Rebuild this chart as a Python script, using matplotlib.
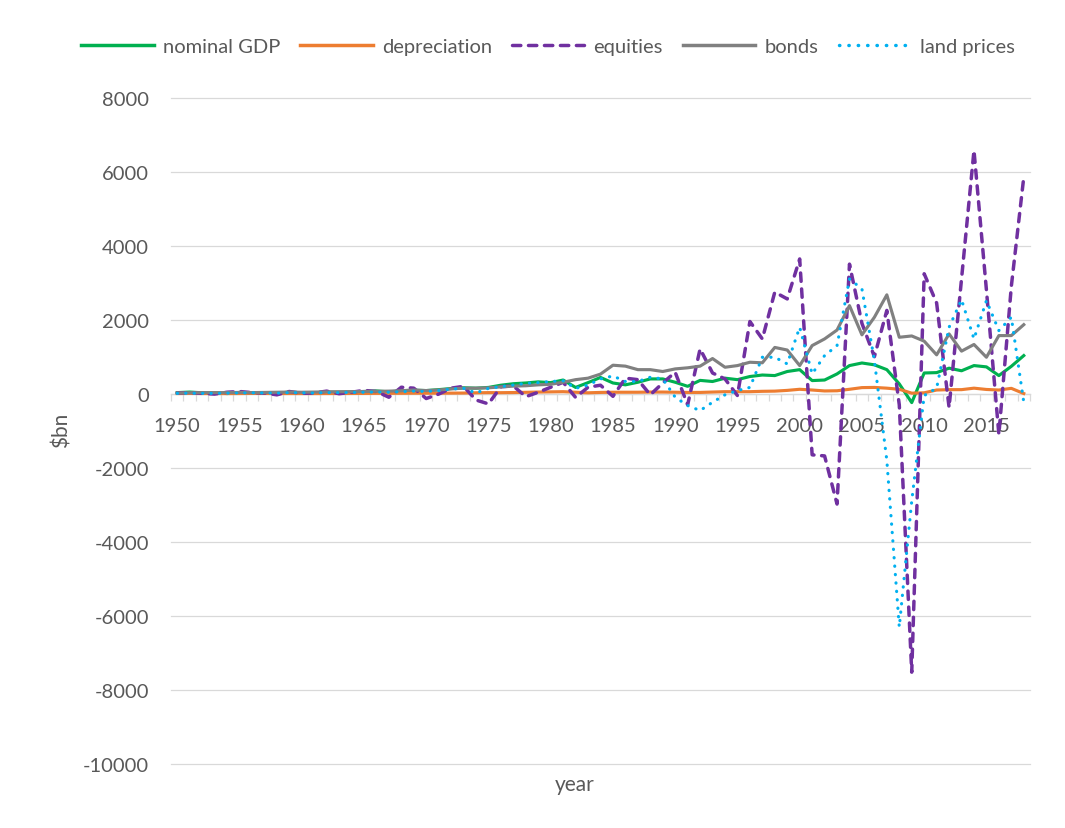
import numpy as np
import matplotlib
matplotlib.use("Agg")
import matplotlib.pyplot as plt
from matplotlib.lines import Line2D

# change per year, $bn
years = list(range(1950, 2019))

nominal_gdp = [30, 45, 25, 25, 5, 35, 25, 30, 10, 45,
               25, 25, 45, 35, 50, 60, 75, 50, 80, 95,
               85, 110, 140, 160, 150, 170, 230, 270, 290, 320,
               300, 370, 170, 300, 440, 290, 240, 310, 400, 400,
               310, 200, 360, 330, 420, 380, 465, 505, 490, 600,
               650, 355, 370, 535, 760, 830, 780, 650, 265, -240,
               560, 570, 690, 620, 760, 725, 490, 740, 1030]

depreciation = [5, 8, 5, 5, 4, 5, 8, 7, 4, 5,
                4, 4, 5, 6, 7, 8, 10, 11, 12, 14,
                14, 15, 16, 18, 25, 30, 28, 32, 38, 45,
                50, 55, 40, 25, 35, 40, 40, 40, 45, 45,
                40, 35, 35, 45, 55, 55, 55, 65, 70, 90,
                120, 100, 75, 80, 120, 165, 170, 150, 120, 15,
                25, 100, 110, 110, 150, 115, 100, 145, 5]

equities = [20, 30, 10, -10, 40, 60, 30, 20, -30, 60,
            10, 20, 70, 0, 40, 90, 60, -95, 175, 150,
            -130, -10, 150, 200, -170, -275, 190, 210, -80, 40,
            175, 310, -100, 175, 230, -70, 420, 380, -30, 290,
            580, -300, 1210, 560, 400, -50, 1950, 1480, 2745, 2560,
            3640, -1650, -1680, -2980, 3500, 1900, 1000, 2250, -300, -7520,
            3240, 2450, -370, 3100, 6570, 2800, -1100, 2900, 5850]

bonds = [20, 25, 30, 30, 30, 35, 30, 35, 40, 45,
         40, 45, 50, 55, 55, 60, 65, 70, 80, 100,
         85, 100, 130, 150, 150, 160, 185, 205, 215, 240,
         255, 310, 380, 420, 530, 770, 745, 650, 650, 600,
         670, 700, 745, 950, 715, 760, 850, 835, 1250, 1180,
         760, 1300, 1480, 1720, 2380, 1590, 2065, 2670, 1525, 1560,
         1420, 1050, 1615, 1150, 1330, 985, 1570, 1570, 1865]

land_prices = [10, 15, 10, 10, 15, 20, 25, 20, 15, 30,
               25, 20, 30, 30, 35, 40, 45, 40, 55, 70,
               60, 85, 125, 145, 20, 145, 190, 235, 280, 300,
               330, 350, 145, 235, 400, 480, 330, 330, 445, 400,
               -95, -320, -455, -230, -30, 85, 170, 985, 985, 805,
               1795, 535, 1030, 1300, 3100, 2830, 900, -1800, -6300, -2900,
               -50, 150, 1795, 2540, 1480, 2515, 1705, 2065, -230]

plt.rcParams['font.family'] = ['Lato', 'DejaVu Sans']
plt.rcParams['axes.unicode_minus'] = False
txt_color = '#595959'
grid_color = '#D9D9D9'

fig = plt.figure(figsize=(10.65, 8.29), dpi=100)
ax = fig.add_axes([171 / 1065, 1 - 765 / 829, (1030 - 171) / 1065, (765 - 98.5) / 829])

x = np.arange(len(years))
ax.plot(x, nominal_gdp, color='#00B050', lw=2.25, zorder=3, solid_joinstyle='round')
ax.plot(x, depreciation, color='#ED7D31', lw=2.25, zorder=4, solid_joinstyle='round')
ax.plot(x, equities, color='#7030A0', lw=2.5, zorder=5, linestyle=(0, (2.4, 2.2)),
        dash_capstyle='round')
ax.plot(x, bonds, color='#808080', lw=2.25, zorder=6, solid_joinstyle='round')
ax.plot(x, land_prices, color='#00B0F0', lw=2.25, zorder=7, linestyle=(0, (0.1, 2.6)),
        dash_capstyle='round')

ax.set_xlim(-0.5, len(years) - 0.5)
ax.set_ylim(-10000, 8000)
ax.set_yticks(range(-10000, 8001, 2000))
ax.yaxis.grid(True, color=grid_color, lw=0.9)
for gl in ax.get_ygridlines():
    gl.set_clip_on(False)
ax.set_axisbelow(True)

for s in ['left', 'top', 'right']:
    ax.spines[s].set_visible(False)
ax.spines['bottom'].set_position(('data', 0))
ax.spines['bottom'].set_color(grid_color)
ax.spines['bottom'].set_linewidth(0.9)
ax.spines['bottom'].set_zorder(2)

major = [i for i, y in enumerate(years) if y % 5 == 0]
ax.set_xticks(major)
ax.set_xticklabels([str(years[i]) for i in major])
ax.set_xticks(np.arange(-0.5, len(years), 1), minor=True)
ax.tick_params(axis='x', which='major', length=0, pad=17, labelsize=14.5, labelcolor=txt_color)
ax.tick_params(axis='x', which='minor', length=5, width=0.9, color=grid_color, direction='out')
ax.tick_params(axis='y', length=0, pad=16, labelsize=14.5, labelcolor=txt_color)

fig.text(62 / 1065, 1 - 430 / 829, '$bn', rotation=90, ha='center', va='center',
         fontsize=15, color=txt_color)
fig.text(575 / 1065, 1 - 785 / 829, 'year', ha='center', va='center',
         fontsize=15, color=txt_color)

handles = [
    Line2D([], [], color='#00B050', lw=2.5),
    Line2D([], [], color='#ED7D31', lw=2.5),
    Line2D([], [], color='#7030A0', lw=2.5, linestyle=(0, (2.4, 2.2)), dash_capstyle='round'),
    Line2D([], [], color='#808080', lw=2.5),
    Line2D([], [], color='#00B0F0', lw=2.5, linestyle=(0, (0.1, 2.6)), dash_capstyle='round'),
]
labels = ['nominal GDP', 'depreciation', 'equities', 'bonds', 'land prices']
leg = fig.legend(handles, labels, ncol=5, loc='center', bbox_to_anchor=(548 / 1065, 1 - 47 / 829),
                 frameon=False, fontsize=14.5, handlelength=3.6, columnspacing=1.0,
                 handletextpad=0.45)
for t in leg.get_texts():
    t.set_color(txt_color)

fig.savefig('out.png', dpi=100, facecolor='white')
